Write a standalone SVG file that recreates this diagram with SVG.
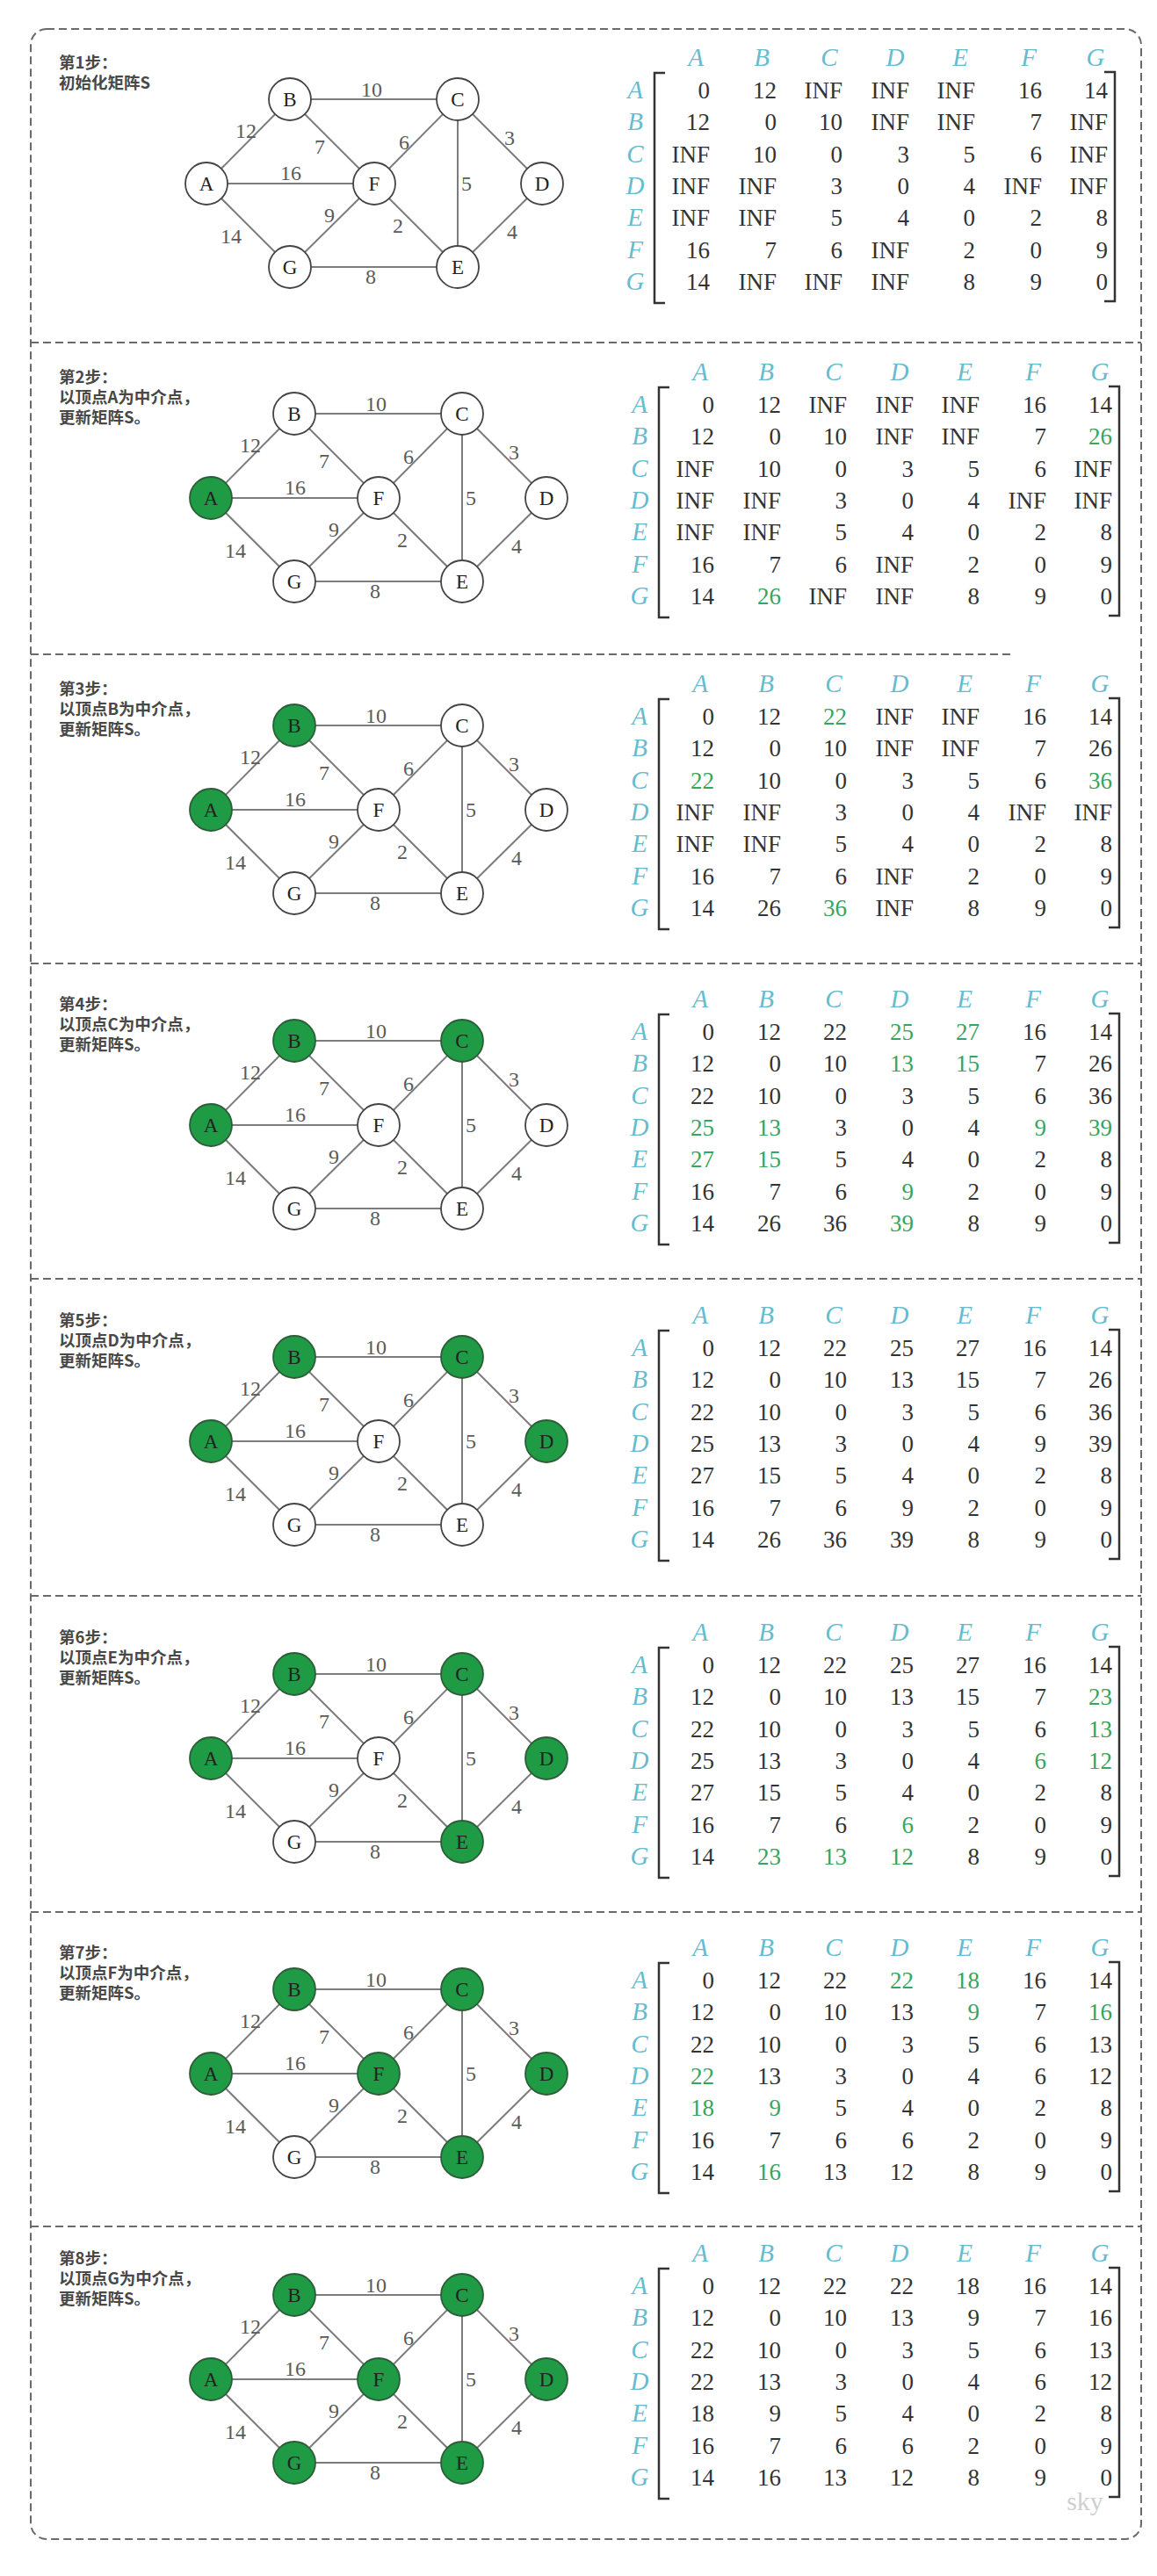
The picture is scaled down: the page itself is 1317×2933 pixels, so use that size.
<svg xmlns="http://www.w3.org/2000/svg" width="1317" height="2933" viewBox="0 0 1317 2933">
<style>
.frame{fill:none;stroke:#6a6a6a;stroke-width:2;stroke-dasharray:9 5}
.edge{stroke:#7c7c7c;stroke-width:2}
.node circle{fill:#fff;stroke:#444;stroke-width:1.8}
.node.on circle{fill:#1f9a45;stroke:#2d5d38}
.nl{font-family:"Liberation Serif",serif;font-size:23px;fill:#222;text-anchor:middle}
.el{font-family:"Liberation Serif",serif;font-size:24px;fill:#5a5a5a;text-anchor:middle}
.title{font-family:"Noto Sans CJK SC",sans-serif;font-weight:bold;font-size:18.5px;fill:#484848}
.hd{font-family:"Liberation Serif",serif;font-style:italic;font-size:29px;fill:#66bccf;text-anchor:middle}
.v{font-family:"Liberation Serif",serif;font-size:27px;fill:#333;text-anchor:end}
.g{fill:#38a45e}
.br{fill:none;stroke:#333;stroke-width:2.5}
.wm{font-family:"Liberation Serif",serif;font-size:30px;fill:#cfcfcf;text-anchor:middle}
</style>
<defs>
<g id="edgeset">
<line class="edge" x1="235" y1="209" x2="330" y2="113"/>
<line class="edge" x1="235" y1="209" x2="426" y2="209"/>
<line class="edge" x1="235" y1="209" x2="330" y2="304"/>
<line class="edge" x1="330" y1="113" x2="521" y2="113"/>
<line class="edge" x1="330" y1="113" x2="426" y2="209"/>
<line class="edge" x1="521" y1="113" x2="426" y2="209"/>
<line class="edge" x1="521" y1="113" x2="521" y2="304"/>
<line class="edge" x1="521" y1="113" x2="617" y2="209"/>
<line class="edge" x1="426" y1="209" x2="330" y2="304"/>
<line class="edge" x1="426" y1="209" x2="521" y2="304"/>
<line class="edge" x1="330" y1="304" x2="521" y2="304"/>
<line class="edge" x1="617" y1="209" x2="521" y2="304"/>
<text class="el" x="423" y="110">10</text>
<text class="el" x="280" y="157">12</text>
<text class="el" x="364" y="175">7</text>
<text class="el" x="460" y="170">6</text>
<text class="el" x="580" y="165">3</text>
<text class="el" x="331" y="205">16</text>
<text class="el" x="531" y="217">5</text>
<text class="el" x="375" y="253">9</text>
<text class="el" x="453" y="265">2</text>
<text class="el" x="583" y="272">4</text>
<text class="el" x="263" y="277">14</text>
<text class="el" x="422" y="323">8</text>
</g>
<g id="mframe">
<path class="br" d="M757,83 H745 V345 H757"/>
<path class="br" d="M1257,82 H1269 V343 H1257"/>
<text class="hd" y="75"><tspan x="792">A</tspan><tspan x="867">B</tspan><tspan x="944">C</tspan><tspan x="1019">D</tspan><tspan x="1093">E</tspan><tspan x="1171">F</tspan><tspan x="1247">G</tspan></text>
<text class="hd" x="723" y="112">A</text>
<text class="hd" x="723" y="148">B</text>
<text class="hd" x="723" y="185">C</text>
<text class="hd" x="723" y="221">D</text>
<text class="hd" x="723" y="257">E</text>
<text class="hd" x="723" y="294">F</text>
<text class="hd" x="723" y="330">G</text>
</g>
</defs>

<rect class="frame" x="35" y="33" width="1264" height="2858" rx="18"/>
<g id="separators">
<line class="frame" x1="35" y1="390" x2="1299" y2="390"/>
<line class="frame" x1="35" y1="745" x2="1152" y2="745"/>
<line class="frame" x1="35" y1="1097" x2="1299" y2="1097"/>
<line class="frame" x1="35" y1="1456" x2="1299" y2="1456"/>
<line class="frame" x1="35" y1="1817" x2="1299" y2="1817"/>
<line class="frame" x1="35" y1="2177" x2="1299" y2="2177"/>
<line class="frame" x1="35" y1="2535" x2="1299" y2="2535"/>
</g>

<!-- Panel 1 -->
<g id="panel1">
<text class="title" x="67" y="78">第1步：</text>
<text class="title" x="67" y="101">初始化矩阵S</text>
<g id="p1-connectors"><use href="#edgeset"/></g>
<g id="p1-A" class="node"><circle cx="235" cy="209" r="24"/><text class="nl" x="235" y="217">A</text></g>
<g id="p1-B" class="node"><circle cx="330" cy="113" r="24"/><text class="nl" x="330" y="121">B</text></g>
<g id="p1-C" class="node"><circle cx="521" cy="113" r="24"/><text class="nl" x="521" y="121">C</text></g>
<g id="p1-D" class="node"><circle cx="617" cy="209" r="24"/><text class="nl" x="617" y="217">D</text></g>
<g id="p1-E" class="node"><circle cx="521" cy="304" r="24"/><text class="nl" x="521" y="312">E</text></g>
<g id="p1-F" class="node"><circle cx="426" cy="209" r="24"/><text class="nl" x="426" y="217">F</text></g>
<g id="p1-G" class="node"><circle cx="330" cy="304" r="24"/><text class="nl" x="330" y="312">G</text></g>
<g id="p1-matrix">
<use href="#mframe"/>
<text class="v" y="112"><tspan x="808">0</tspan><tspan x="884">12</tspan><tspan x="959">INF</tspan><tspan x="1035">INF</tspan><tspan x="1110">INF</tspan><tspan x="1186">16</tspan><tspan x="1261">14</tspan></text>
<text class="v" y="148"><tspan x="808">12</tspan><tspan x="884">0</tspan><tspan x="959">10</tspan><tspan x="1035">INF</tspan><tspan x="1110">INF</tspan><tspan x="1186">7</tspan><tspan x="1261">INF</tspan></text>
<text class="v" y="185"><tspan x="808">INF</tspan><tspan x="884">10</tspan><tspan x="959">0</tspan><tspan x="1035">3</tspan><tspan x="1110">5</tspan><tspan x="1186">6</tspan><tspan x="1261">INF</tspan></text>
<text class="v" y="221"><tspan x="808">INF</tspan><tspan x="884">INF</tspan><tspan x="959">3</tspan><tspan x="1035">0</tspan><tspan x="1110">4</tspan><tspan x="1186">INF</tspan><tspan x="1261">INF</tspan></text>
<text class="v" y="257"><tspan x="808">INF</tspan><tspan x="884">INF</tspan><tspan x="959">5</tspan><tspan x="1035">4</tspan><tspan x="1110">0</tspan><tspan x="1186">2</tspan><tspan x="1261">8</tspan></text>
<text class="v" y="294"><tspan x="808">16</tspan><tspan x="884">7</tspan><tspan x="959">6</tspan><tspan x="1035">INF</tspan><tspan x="1110">2</tspan><tspan x="1186">0</tspan><tspan x="1261">9</tspan></text>
<text class="v" y="330"><tspan x="808">14</tspan><tspan x="884">INF</tspan><tspan x="959">INF</tspan><tspan x="1035">INF</tspan><tspan x="1110">8</tspan><tspan x="1186">9</tspan><tspan x="1261">0</tspan></text>
</g>
</g>

<!-- Panel 2 -->
<g id="panel2" transform="translate(0,358)">
<text class="title" x="67" y="78">第2步：</text>
<text class="title" x="67" y="101">以顶点A为中介点，</text>
<text class="title" x="67" y="124">更新矩阵S。</text>
<g transform="translate(5,0)">
<g id="p2-connectors"><use href="#edgeset"/></g>
<g id="p2-A" class="node on"><circle cx="235" cy="209" r="24"/><text class="nl" x="235" y="217">A</text></g>
<g id="p2-B" class="node"><circle cx="330" cy="113" r="24"/><text class="nl" x="330" y="121">B</text></g>
<g id="p2-C" class="node"><circle cx="521" cy="113" r="24"/><text class="nl" x="521" y="121">C</text></g>
<g id="p2-D" class="node"><circle cx="617" cy="209" r="24"/><text class="nl" x="617" y="217">D</text></g>
<g id="p2-E" class="node"><circle cx="521" cy="304" r="24"/><text class="nl" x="521" y="312">E</text></g>
<g id="p2-F" class="node"><circle cx="426" cy="209" r="24"/><text class="nl" x="426" y="217">F</text></g>
<g id="p2-G" class="node"><circle cx="330" cy="304" r="24"/><text class="nl" x="330" y="312">G</text></g>
<g id="p2-matrix">
<use href="#mframe"/>
<text class="v" y="112"><tspan x="808">0</tspan><tspan x="884">12</tspan><tspan x="959">INF</tspan><tspan x="1035">INF</tspan><tspan x="1110">INF</tspan><tspan x="1186">16</tspan><tspan x="1261">14</tspan></text>
<text class="v" y="148"><tspan x="808">12</tspan><tspan x="884">0</tspan><tspan x="959">10</tspan><tspan x="1035">INF</tspan><tspan x="1110">INF</tspan><tspan x="1186">7</tspan><tspan x="1261" class="g">26</tspan></text>
<text class="v" y="185"><tspan x="808">INF</tspan><tspan x="884">10</tspan><tspan x="959">0</tspan><tspan x="1035">3</tspan><tspan x="1110">5</tspan><tspan x="1186">6</tspan><tspan x="1261">INF</tspan></text>
<text class="v" y="221"><tspan x="808">INF</tspan><tspan x="884">INF</tspan><tspan x="959">3</tspan><tspan x="1035">0</tspan><tspan x="1110">4</tspan><tspan x="1186">INF</tspan><tspan x="1261">INF</tspan></text>
<text class="v" y="257"><tspan x="808">INF</tspan><tspan x="884">INF</tspan><tspan x="959">5</tspan><tspan x="1035">4</tspan><tspan x="1110">0</tspan><tspan x="1186">2</tspan><tspan x="1261">8</tspan></text>
<text class="v" y="294"><tspan x="808">16</tspan><tspan x="884">7</tspan><tspan x="959">6</tspan><tspan x="1035">INF</tspan><tspan x="1110">2</tspan><tspan x="1186">0</tspan><tspan x="1261">9</tspan></text>
<text class="v" y="330"><tspan x="808">14</tspan><tspan x="884" class="g">26</tspan><tspan x="959">INF</tspan><tspan x="1035">INF</tspan><tspan x="1110">8</tspan><tspan x="1186">9</tspan><tspan x="1261">0</tspan></text>
</g>
</g>
</g>

<!-- Panel 3 -->
<g id="panel3" transform="translate(0,713)">
<text class="title" x="67" y="78">第3步：</text>
<text class="title" x="67" y="101">以顶点B为中介点，</text>
<text class="title" x="67" y="124">更新矩阵S。</text>
<g transform="translate(5,0)">
<g id="p3-connectors"><use href="#edgeset"/></g>
<g id="p3-A" class="node on"><circle cx="235" cy="209" r="24"/><text class="nl" x="235" y="217">A</text></g>
<g id="p3-B" class="node on"><circle cx="330" cy="113" r="24"/><text class="nl" x="330" y="121">B</text></g>
<g id="p3-C" class="node"><circle cx="521" cy="113" r="24"/><text class="nl" x="521" y="121">C</text></g>
<g id="p3-D" class="node"><circle cx="617" cy="209" r="24"/><text class="nl" x="617" y="217">D</text></g>
<g id="p3-E" class="node"><circle cx="521" cy="304" r="24"/><text class="nl" x="521" y="312">E</text></g>
<g id="p3-F" class="node"><circle cx="426" cy="209" r="24"/><text class="nl" x="426" y="217">F</text></g>
<g id="p3-G" class="node"><circle cx="330" cy="304" r="24"/><text class="nl" x="330" y="312">G</text></g>
<g id="p3-matrix">
<use href="#mframe"/>
<text class="v" y="112"><tspan x="808">0</tspan><tspan x="884">12</tspan><tspan x="959" class="g">22</tspan><tspan x="1035">INF</tspan><tspan x="1110">INF</tspan><tspan x="1186">16</tspan><tspan x="1261">14</tspan></text>
<text class="v" y="148"><tspan x="808">12</tspan><tspan x="884">0</tspan><tspan x="959">10</tspan><tspan x="1035">INF</tspan><tspan x="1110">INF</tspan><tspan x="1186">7</tspan><tspan x="1261">26</tspan></text>
<text class="v" y="185"><tspan x="808" class="g">22</tspan><tspan x="884">10</tspan><tspan x="959">0</tspan><tspan x="1035">3</tspan><tspan x="1110">5</tspan><tspan x="1186">6</tspan><tspan x="1261" class="g">36</tspan></text>
<text class="v" y="221"><tspan x="808">INF</tspan><tspan x="884">INF</tspan><tspan x="959">3</tspan><tspan x="1035">0</tspan><tspan x="1110">4</tspan><tspan x="1186">INF</tspan><tspan x="1261">INF</tspan></text>
<text class="v" y="257"><tspan x="808">INF</tspan><tspan x="884">INF</tspan><tspan x="959">5</tspan><tspan x="1035">4</tspan><tspan x="1110">0</tspan><tspan x="1186">2</tspan><tspan x="1261">8</tspan></text>
<text class="v" y="294"><tspan x="808">16</tspan><tspan x="884">7</tspan><tspan x="959">6</tspan><tspan x="1035">INF</tspan><tspan x="1110">2</tspan><tspan x="1186">0</tspan><tspan x="1261">9</tspan></text>
<text class="v" y="330"><tspan x="808">14</tspan><tspan x="884">26</tspan><tspan x="959" class="g">36</tspan><tspan x="1035">INF</tspan><tspan x="1110">8</tspan><tspan x="1186">9</tspan><tspan x="1261">0</tspan></text>
</g>
</g>
</g>

<!-- Panel 4 -->
<g id="panel4" transform="translate(0,1072)">
<text class="title" x="67" y="78">第4步：</text>
<text class="title" x="67" y="101">以顶点C为中介点，</text>
<text class="title" x="67" y="124">更新矩阵S。</text>
<g transform="translate(5,0)">
<g id="p4-connectors"><use href="#edgeset"/></g>
<g id="p4-A" class="node on"><circle cx="235" cy="209" r="24"/><text class="nl" x="235" y="217">A</text></g>
<g id="p4-B" class="node on"><circle cx="330" cy="113" r="24"/><text class="nl" x="330" y="121">B</text></g>
<g id="p4-C" class="node on"><circle cx="521" cy="113" r="24"/><text class="nl" x="521" y="121">C</text></g>
<g id="p4-D" class="node"><circle cx="617" cy="209" r="24"/><text class="nl" x="617" y="217">D</text></g>
<g id="p4-E" class="node"><circle cx="521" cy="304" r="24"/><text class="nl" x="521" y="312">E</text></g>
<g id="p4-F" class="node"><circle cx="426" cy="209" r="24"/><text class="nl" x="426" y="217">F</text></g>
<g id="p4-G" class="node"><circle cx="330" cy="304" r="24"/><text class="nl" x="330" y="312">G</text></g>
<g id="p4-matrix">
<use href="#mframe"/>
<text class="v" y="112"><tspan x="808">0</tspan><tspan x="884">12</tspan><tspan x="959">22</tspan><tspan x="1035" class="g">25</tspan><tspan x="1110" class="g">27</tspan><tspan x="1186">16</tspan><tspan x="1261">14</tspan></text>
<text class="v" y="148"><tspan x="808">12</tspan><tspan x="884">0</tspan><tspan x="959">10</tspan><tspan x="1035" class="g">13</tspan><tspan x="1110" class="g">15</tspan><tspan x="1186">7</tspan><tspan x="1261">26</tspan></text>
<text class="v" y="185"><tspan x="808">22</tspan><tspan x="884">10</tspan><tspan x="959">0</tspan><tspan x="1035">3</tspan><tspan x="1110">5</tspan><tspan x="1186">6</tspan><tspan x="1261">36</tspan></text>
<text class="v" y="221"><tspan x="808" class="g">25</tspan><tspan x="884" class="g">13</tspan><tspan x="959">3</tspan><tspan x="1035">0</tspan><tspan x="1110">4</tspan><tspan x="1186" class="g">9</tspan><tspan x="1261" class="g">39</tspan></text>
<text class="v" y="257"><tspan x="808" class="g">27</tspan><tspan x="884" class="g">15</tspan><tspan x="959">5</tspan><tspan x="1035">4</tspan><tspan x="1110">0</tspan><tspan x="1186">2</tspan><tspan x="1261">8</tspan></text>
<text class="v" y="294"><tspan x="808">16</tspan><tspan x="884">7</tspan><tspan x="959">6</tspan><tspan x="1035" class="g">9</tspan><tspan x="1110">2</tspan><tspan x="1186">0</tspan><tspan x="1261">9</tspan></text>
<text class="v" y="330"><tspan x="808">14</tspan><tspan x="884">26</tspan><tspan x="959">36</tspan><tspan x="1035" class="g">39</tspan><tspan x="1110">8</tspan><tspan x="1186">9</tspan><tspan x="1261">0</tspan></text>
</g>
</g>
</g>

<!-- Panel 5 -->
<g id="panel5" transform="translate(0,1432)">
<text class="title" x="67" y="78">第5步：</text>
<text class="title" x="67" y="101">以顶点D为中介点，</text>
<text class="title" x="67" y="124">更新矩阵S。</text>
<g transform="translate(5,0)">
<g id="p5-connectors"><use href="#edgeset"/></g>
<g id="p5-A" class="node on"><circle cx="235" cy="209" r="24"/><text class="nl" x="235" y="217">A</text></g>
<g id="p5-B" class="node on"><circle cx="330" cy="113" r="24"/><text class="nl" x="330" y="121">B</text></g>
<g id="p5-C" class="node on"><circle cx="521" cy="113" r="24"/><text class="nl" x="521" y="121">C</text></g>
<g id="p5-D" class="node on"><circle cx="617" cy="209" r="24"/><text class="nl" x="617" y="217">D</text></g>
<g id="p5-E" class="node"><circle cx="521" cy="304" r="24"/><text class="nl" x="521" y="312">E</text></g>
<g id="p5-F" class="node"><circle cx="426" cy="209" r="24"/><text class="nl" x="426" y="217">F</text></g>
<g id="p5-G" class="node"><circle cx="330" cy="304" r="24"/><text class="nl" x="330" y="312">G</text></g>
<g id="p5-matrix">
<use href="#mframe"/>
<text class="v" y="112"><tspan x="808">0</tspan><tspan x="884">12</tspan><tspan x="959">22</tspan><tspan x="1035">25</tspan><tspan x="1110">27</tspan><tspan x="1186">16</tspan><tspan x="1261">14</tspan></text>
<text class="v" y="148"><tspan x="808">12</tspan><tspan x="884">0</tspan><tspan x="959">10</tspan><tspan x="1035">13</tspan><tspan x="1110">15</tspan><tspan x="1186">7</tspan><tspan x="1261">26</tspan></text>
<text class="v" y="185"><tspan x="808">22</tspan><tspan x="884">10</tspan><tspan x="959">0</tspan><tspan x="1035">3</tspan><tspan x="1110">5</tspan><tspan x="1186">6</tspan><tspan x="1261">36</tspan></text>
<text class="v" y="221"><tspan x="808">25</tspan><tspan x="884">13</tspan><tspan x="959">3</tspan><tspan x="1035">0</tspan><tspan x="1110">4</tspan><tspan x="1186">9</tspan><tspan x="1261">39</tspan></text>
<text class="v" y="257"><tspan x="808">27</tspan><tspan x="884">15</tspan><tspan x="959">5</tspan><tspan x="1035">4</tspan><tspan x="1110">0</tspan><tspan x="1186">2</tspan><tspan x="1261">8</tspan></text>
<text class="v" y="294"><tspan x="808">16</tspan><tspan x="884">7</tspan><tspan x="959">6</tspan><tspan x="1035">9</tspan><tspan x="1110">2</tspan><tspan x="1186">0</tspan><tspan x="1261">9</tspan></text>
<text class="v" y="330"><tspan x="808">14</tspan><tspan x="884">26</tspan><tspan x="959">36</tspan><tspan x="1035">39</tspan><tspan x="1110">8</tspan><tspan x="1186">9</tspan><tspan x="1261">0</tspan></text>
</g>
</g>
</g>

<!-- Panel 6 -->
<g id="panel6" transform="translate(0,1793)">
<text class="title" x="67" y="78">第6步：</text>
<text class="title" x="67" y="101">以顶点E为中介点，</text>
<text class="title" x="67" y="124">更新矩阵S。</text>
<g transform="translate(5,0)">
<g id="p6-connectors"><use href="#edgeset"/></g>
<g id="p6-A" class="node on"><circle cx="235" cy="209" r="24"/><text class="nl" x="235" y="217">A</text></g>
<g id="p6-B" class="node on"><circle cx="330" cy="113" r="24"/><text class="nl" x="330" y="121">B</text></g>
<g id="p6-C" class="node on"><circle cx="521" cy="113" r="24"/><text class="nl" x="521" y="121">C</text></g>
<g id="p6-D" class="node on"><circle cx="617" cy="209" r="24"/><text class="nl" x="617" y="217">D</text></g>
<g id="p6-E" class="node on"><circle cx="521" cy="304" r="24"/><text class="nl" x="521" y="312">E</text></g>
<g id="p6-F" class="node"><circle cx="426" cy="209" r="24"/><text class="nl" x="426" y="217">F</text></g>
<g id="p6-G" class="node"><circle cx="330" cy="304" r="24"/><text class="nl" x="330" y="312">G</text></g>
<g id="p6-matrix">
<use href="#mframe"/>
<text class="v" y="112"><tspan x="808">0</tspan><tspan x="884">12</tspan><tspan x="959">22</tspan><tspan x="1035">25</tspan><tspan x="1110">27</tspan><tspan x="1186">16</tspan><tspan x="1261">14</tspan></text>
<text class="v" y="148"><tspan x="808">12</tspan><tspan x="884">0</tspan><tspan x="959">10</tspan><tspan x="1035">13</tspan><tspan x="1110">15</tspan><tspan x="1186">7</tspan><tspan x="1261" class="g">23</tspan></text>
<text class="v" y="185"><tspan x="808">22</tspan><tspan x="884">10</tspan><tspan x="959">0</tspan><tspan x="1035">3</tspan><tspan x="1110">5</tspan><tspan x="1186">6</tspan><tspan x="1261" class="g">13</tspan></text>
<text class="v" y="221"><tspan x="808">25</tspan><tspan x="884">13</tspan><tspan x="959">3</tspan><tspan x="1035">0</tspan><tspan x="1110">4</tspan><tspan x="1186" class="g">6</tspan><tspan x="1261" class="g">12</tspan></text>
<text class="v" y="257"><tspan x="808">27</tspan><tspan x="884">15</tspan><tspan x="959">5</tspan><tspan x="1035">4</tspan><tspan x="1110">0</tspan><tspan x="1186">2</tspan><tspan x="1261">8</tspan></text>
<text class="v" y="294"><tspan x="808">16</tspan><tspan x="884">7</tspan><tspan x="959">6</tspan><tspan x="1035" class="g">6</tspan><tspan x="1110">2</tspan><tspan x="1186">0</tspan><tspan x="1261">9</tspan></text>
<text class="v" y="330"><tspan x="808">14</tspan><tspan x="884" class="g">23</tspan><tspan x="959" class="g">13</tspan><tspan x="1035" class="g">12</tspan><tspan x="1110">8</tspan><tspan x="1186">9</tspan><tspan x="1261">0</tspan></text>
</g>
</g>
</g>

<!-- Panel 7 -->
<g id="panel7" transform="translate(0,2152)">
<text class="title" x="67" y="78">第7步：</text>
<text class="title" x="67" y="101">以顶点F为中介点，</text>
<text class="title" x="67" y="124">更新矩阵S。</text>
<g transform="translate(5,0)">
<g id="p7-connectors"><use href="#edgeset"/></g>
<g id="p7-A" class="node on"><circle cx="235" cy="209" r="24"/><text class="nl" x="235" y="217">A</text></g>
<g id="p7-B" class="node on"><circle cx="330" cy="113" r="24"/><text class="nl" x="330" y="121">B</text></g>
<g id="p7-C" class="node on"><circle cx="521" cy="113" r="24"/><text class="nl" x="521" y="121">C</text></g>
<g id="p7-D" class="node on"><circle cx="617" cy="209" r="24"/><text class="nl" x="617" y="217">D</text></g>
<g id="p7-E" class="node on"><circle cx="521" cy="304" r="24"/><text class="nl" x="521" y="312">E</text></g>
<g id="p7-F" class="node on"><circle cx="426" cy="209" r="24"/><text class="nl" x="426" y="217">F</text></g>
<g id="p7-G" class="node"><circle cx="330" cy="304" r="24"/><text class="nl" x="330" y="312">G</text></g>
<g id="p7-matrix">
<use href="#mframe"/>
<text class="v" y="112"><tspan x="808">0</tspan><tspan x="884">12</tspan><tspan x="959">22</tspan><tspan x="1035" class="g">22</tspan><tspan x="1110" class="g">18</tspan><tspan x="1186">16</tspan><tspan x="1261">14</tspan></text>
<text class="v" y="148"><tspan x="808">12</tspan><tspan x="884">0</tspan><tspan x="959">10</tspan><tspan x="1035">13</tspan><tspan x="1110" class="g">9</tspan><tspan x="1186">7</tspan><tspan x="1261" class="g">16</tspan></text>
<text class="v" y="185"><tspan x="808">22</tspan><tspan x="884">10</tspan><tspan x="959">0</tspan><tspan x="1035">3</tspan><tspan x="1110">5</tspan><tspan x="1186">6</tspan><tspan x="1261">13</tspan></text>
<text class="v" y="221"><tspan x="808" class="g">22</tspan><tspan x="884">13</tspan><tspan x="959">3</tspan><tspan x="1035">0</tspan><tspan x="1110">4</tspan><tspan x="1186">6</tspan><tspan x="1261">12</tspan></text>
<text class="v" y="257"><tspan x="808" class="g">18</tspan><tspan x="884" class="g">9</tspan><tspan x="959">5</tspan><tspan x="1035">4</tspan><tspan x="1110">0</tspan><tspan x="1186">2</tspan><tspan x="1261">8</tspan></text>
<text class="v" y="294"><tspan x="808">16</tspan><tspan x="884">7</tspan><tspan x="959">6</tspan><tspan x="1035">6</tspan><tspan x="1110">2</tspan><tspan x="1186">0</tspan><tspan x="1261">9</tspan></text>
<text class="v" y="330"><tspan x="808">14</tspan><tspan x="884" class="g">16</tspan><tspan x="959">13</tspan><tspan x="1035">12</tspan><tspan x="1110">8</tspan><tspan x="1186">9</tspan><tspan x="1261">0</tspan></text>
</g>
</g>
</g>

<!-- Panel 8 -->
<g id="panel8" transform="translate(0,2500)">
<text class="title" x="67" y="78">第8步：</text>
<text class="title" x="67" y="101">以顶点G为中介点，</text>
<text class="title" x="67" y="124">更新矩阵S。</text>
<g transform="translate(5,0)">
<g id="p8-connectors"><use href="#edgeset"/></g>
<g id="p8-A" class="node on"><circle cx="235" cy="209" r="24"/><text class="nl" x="235" y="217">A</text></g>
<g id="p8-B" class="node on"><circle cx="330" cy="113" r="24"/><text class="nl" x="330" y="121">B</text></g>
<g id="p8-C" class="node on"><circle cx="521" cy="113" r="24"/><text class="nl" x="521" y="121">C</text></g>
<g id="p8-D" class="node on"><circle cx="617" cy="209" r="24"/><text class="nl" x="617" y="217">D</text></g>
<g id="p8-E" class="node on"><circle cx="521" cy="304" r="24"/><text class="nl" x="521" y="312">E</text></g>
<g id="p8-F" class="node on"><circle cx="426" cy="209" r="24"/><text class="nl" x="426" y="217">F</text></g>
<g id="p8-G" class="node on"><circle cx="330" cy="304" r="24"/><text class="nl" x="330" y="312">G</text></g>
<g id="p8-matrix">
<use href="#mframe"/>
<text class="v" y="112"><tspan x="808">0</tspan><tspan x="884">12</tspan><tspan x="959">22</tspan><tspan x="1035">22</tspan><tspan x="1110">18</tspan><tspan x="1186">16</tspan><tspan x="1261">14</tspan></text>
<text class="v" y="148"><tspan x="808">12</tspan><tspan x="884">0</tspan><tspan x="959">10</tspan><tspan x="1035">13</tspan><tspan x="1110">9</tspan><tspan x="1186">7</tspan><tspan x="1261">16</tspan></text>
<text class="v" y="185"><tspan x="808">22</tspan><tspan x="884">10</tspan><tspan x="959">0</tspan><tspan x="1035">3</tspan><tspan x="1110">5</tspan><tspan x="1186">6</tspan><tspan x="1261">13</tspan></text>
<text class="v" y="221"><tspan x="808">22</tspan><tspan x="884">13</tspan><tspan x="959">3</tspan><tspan x="1035">0</tspan><tspan x="1110">4</tspan><tspan x="1186">6</tspan><tspan x="1261">12</tspan></text>
<text class="v" y="257"><tspan x="808">18</tspan><tspan x="884">9</tspan><tspan x="959">5</tspan><tspan x="1035">4</tspan><tspan x="1110">0</tspan><tspan x="1186">2</tspan><tspan x="1261">8</tspan></text>
<text class="v" y="294"><tspan x="808">16</tspan><tspan x="884">7</tspan><tspan x="959">6</tspan><tspan x="1035">6</tspan><tspan x="1110">2</tspan><tspan x="1186">0</tspan><tspan x="1261">9</tspan></text>
<text class="v" y="330"><tspan x="808">14</tspan><tspan x="884">16</tspan><tspan x="959">13</tspan><tspan x="1035">12</tspan><tspan x="1110">8</tspan><tspan x="1186">9</tspan><tspan x="1261">0</tspan></text>
</g>
</g>
</g>

<text class="wm" x="1235" y="2858">sky</text>
</svg>
